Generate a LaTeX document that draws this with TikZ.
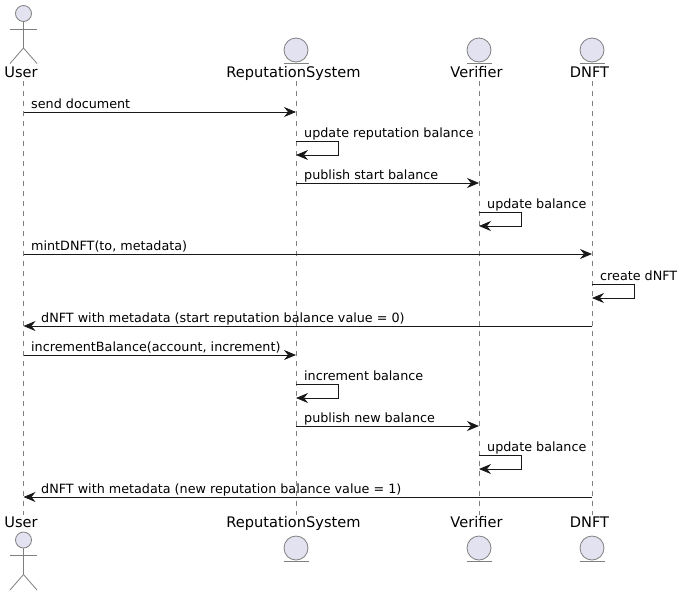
\documentclass[tikz,border=0pt]{standalone}
\usepackage{fontspec}
\setmainfont{DejaVu Sans}
\usetikzlibrary{arrows.meta}

\definecolor{partfill}{HTML}{E2E2F0}
\definecolor{partline}{HTML}{7F7F7F}
\definecolor{msgline}{HTML}{181818}

\tikzset{
    partname/.style={font=\fontsize{14.6}{16}\selectfont,inner sep=0pt,text=black},
    msgtext/.style={font=\fontsize{12.75}{15}\selectfont,inner sep=0pt,anchor=base west,text=black},
    lifeline/.style={draw=partline,line width=0.7pt,dash pattern=on 5pt off 5pt},
    partshape/.style={draw=partline,fill=partfill,line width=0.8pt},
    msg/.style={draw=msgline,line width=0.8pt,-{Stealth[length=12pt,width=10pt,inset=4pt]}}
}

\begin{document}
\begin{tikzpicture}[x=1pt,y=-1pt]
    \useasboundingbox (0,0) rectangle (682,595);

    % Lignes de vie
    \foreach \name/\x/\lab in {User/23.5/User,Rep/296/ReputationSystem,Ver/479/Verifier,Dnft/592/DNFT} {
        \node[partname,anchor=base] (\name Top) at (\x-2.5,77) {\lab};
        \node[partname,anchor=base] (\name Bot) at (\x-2.5,527) {\lab};
        \coordinate (\name A) at (\x,81);
        \coordinate (\name B) at (\x,515);
        \draw[lifeline] (\name A) -- (\name B);
    }

    % Acteur en haut et en bas
    \foreach \name/\y in {UserHeadT/13.5,UserHeadB/540} {
        \node[circle,partshape,minimum size=16pt,inner sep=0pt] (\name) at (23.5,\y) {};
        \coordinate (\name Hip) at (23.5,\y+34.5);
        \coordinate (\name ArmL) at (10,\y+15.5);
        \coordinate (\name ArmR) at (37,\y+15.5);
        \coordinate (\name LegL) at (10,\y+50);
        \coordinate (\name LegR) at (37,\y+50);
        \draw[partline,line width=0.8pt] (\name) -- (\name Hip);
        \draw[partline,line width=0.8pt] (\name ArmL) -- (\name ArmR);
        \draw[partline,line width=0.8pt] (\name LegL) -- (\name Hip) -- (\name LegR);
    }

    % Entites en haut et en bas
    \foreach \name/\x in {Rep/296,Ver/479,Dnft/592} {
        \foreach \pos/\y in {T/50,B/548} {
            \node[circle,partshape,minimum size=24pt,inner sep=0pt] (\name Ent\pos) at (\x,\y) {};
            \coordinate (\name Ul\pos) at (\x-12.5,\y+13);
            \coordinate (\name Ur\pos) at (\x+12.5,\y+13);
            \draw[partline,line width=0.8pt] (\name Ul\pos) -- (\name Ur\pos);
        }
    }

    % Messages simples
    \foreach \i/\from/\to/\y/\tx/\txt in {
        1/User/Rep/112/31/{send document},
        3/Rep/Ver/183/304/{publish start balance},
        5/User/Dnft/254/31/{mintDNFT(to, metadata)},
        7/Dnft/User/326/41/{dNFT with metadata (start reputation balance value = 0)},
        8/User/Rep/355/31/{incrementBalance(account, increment)},
        10/Rep/Ver/426/304/{publish new balance},
        12/Dnft/User/497/41/{dNFT with metadata (new reputation balance value = 1)}} {
        \coordinate (m\i a) at (\from A |- 0,\y);
        \coordinate (m\i b) at (\to A |- 0,\y);
        \draw[msg] (m\i a) -- (m\i b);
        \node[msgtext] (t\i) at (\tx,\y-4) {\txt};
    }

    % Messages vers soi
    \foreach \i/\who/\y/\txt in {
        2/Rep/141/{update reputation balance},
        4/Ver/212/{update balance},
        6/Dnft/284/{create dNFT},
        9/Rep/384/{increment balance},
        11/Ver/455/{update balance}} {
        \coordinate (m\i a) at (\who A |- 0,\y);
        \coordinate (m\i b) at (\who A |- 0,\y+14);
        \draw[msg] (m\i a) -- ++(42.5,0) |- (m\i b);
        \node[msgtext] (t\i) at ([xshift=8pt,yshift=4pt]m\i a) {\txt};
    }
\end{tikzpicture}
\end{document}
